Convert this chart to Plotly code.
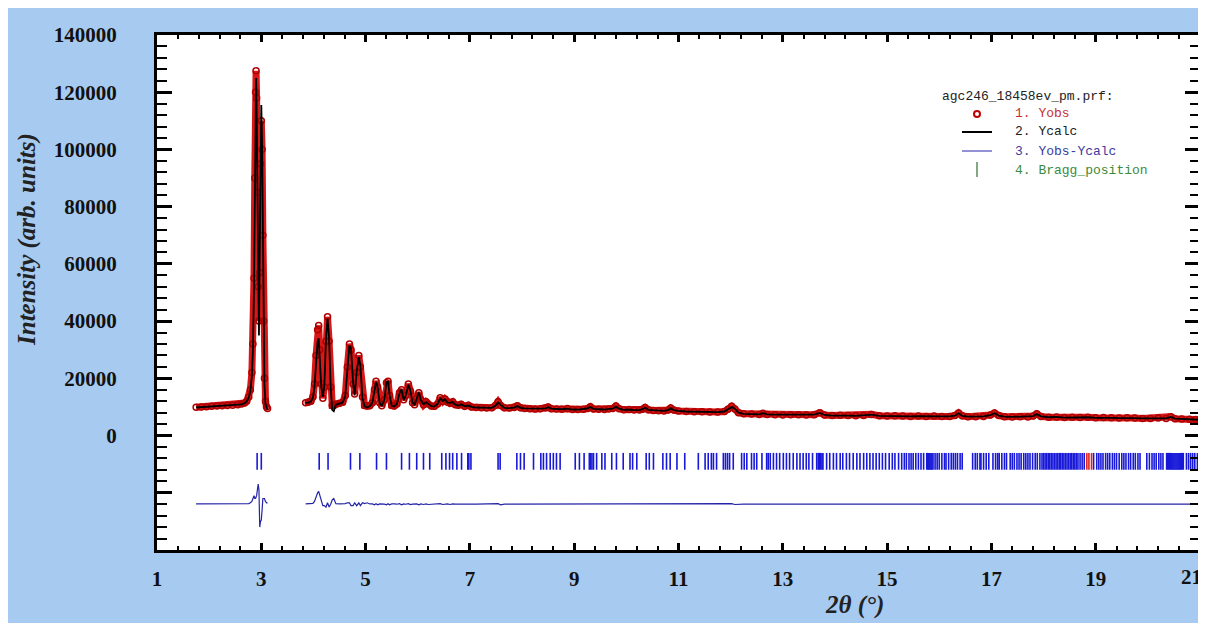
import plotly.graph_objects as go

# ---------------- data ----------------
# first measured segment (low-angle peak)
x_seg1 = [1.75, 1.85, 1.95, 2.05, 2.15, 2.25, 2.35, 2.45, 2.55, 2.62, 2.68, 2.72, 2.76, 2.79,
          2.82, 2.84, 2.86, 2.875, 2.89, 2.90, 2.91, 2.925, 2.94, 2.955, 2.97, 2.985, 3.00,
          3.015, 3.03, 3.045, 3.06, 3.08, 3.10, 3.12]
yobs_seg1 = [9900, 10000, 10100, 10200, 10300, 10400, 10500, 10600, 10800, 11000, 11400, 12000,
             13500, 16000, 22000, 32000, 55000, 90000, 120000, 127500, 118000, 85000, 52000,
             40000, 57000, 95000, 110000, 100000, 70000, 40000, 20000, 12000, 10000, 9500]
ycalc_seg1 = [9800, 9900, 10000, 10100, 10200, 10300, 10400, 10500, 10700, 10900, 11300, 11900,
              13300, 15500, 21000, 30000, 52000, 88000, 118000, 125000, 115000, 80000, 45000,
              35000, 65000, 101000, 115500, 102000, 68000, 38000, 18000, 11000, 9500, 9000]

# second measured segment
x_seg2 = [3.85, 3.90, 3.95, 3.99, 4.02, 4.05, 4.08, 4.10, 4.12, 4.15, 4.18, 4.21, 4.24, 4.27,
          4.30, 4.33, 4.36, 4.39, 4.43, 4.50, 4.56, 4.61, 4.65, 4.69, 4.72, 4.76, 4.79, 4.83,
          4.87, 4.90, 4.94, 4.98, 5.03, 5.08, 5.13, 5.17, 5.20, 5.23, 5.27, 5.31, 5.36, 5.40,
          5.43, 5.46, 5.50, 5.55, 5.60, 5.65, 5.69, 5.73, 5.77, 5.82, 5.86, 5.90, 5.94, 5.98,
          6.02, 6.06, 6.11, 6.16, 6.20, 6.26, 6.32, 6.38, 6.43, 6.48, 6.52, 6.57, 6.62, 6.67,
          6.72, 6.78, 6.83, 6.90, 6.97, 7.03, 7.12, 7.22, 7.32, 7.42, 7.49, 7.54, 7.59, 7.66,
          7.76, 7.85, 7.91, 7.97, 8.05, 8.15, 8.25, 8.35, 8.45, 8.50, 8.56, 8.66, 8.76, 8.87,
          8.97, 9.07, 9.18, 9.26, 9.31, 9.37, 9.47, 9.58, 9.66, 9.74, 9.80, 9.86, 9.95, 10.05,
          10.15, 10.25, 10.31, 10.36, 10.42, 10.52, 10.62, 10.72, 10.80, 10.85, 10.91, 11.00,
          11.15, 11.30, 11.45, 11.60, 11.75, 11.88, 11.95, 12.02, 12.08, 12.15, 12.25, 12.40,
          12.55, 12.62, 12.70, 12.85, 13.00, 13.15, 13.30, 13.45, 13.60, 13.71, 13.80, 13.95,
          14.10, 14.25, 14.40, 14.55, 14.70, 14.85, 15.00, 15.15, 15.30, 15.45, 15.60, 15.75,
          15.90, 16.05, 16.20, 16.30, 16.37, 16.44, 16.55, 16.70, 16.85, 16.98, 17.06, 17.14,
          17.25, 17.40, 17.55, 17.70, 17.80, 17.87, 17.95, 18.10, 18.25, 18.40, 18.55, 18.70,
          18.85, 19.00, 19.15, 19.30, 19.45, 19.60, 19.75, 19.90, 20.05, 20.20, 20.35, 20.44,
          20.52, 20.65, 20.80, 20.92, 21.00]
yobs_seg2 = [11500, 11600, 12000, 13500, 18000, 28000, 37000, 38500, 30000, 18000, 13000, 17000,
             33000, 41500, 33000, 17000, 10500, 10500, 11000, 11300, 11600, 14000, 24000, 32000,
             30000, 18000, 14500, 22000, 28000, 24000, 13500, 10500, 10300, 10400, 11500, 16000,
             19000, 17000, 11500, 10400, 12500, 18500, 19000, 14000, 10500, 10300, 11000, 15000,
             16000, 12500, 14000, 18000, 15500, 11500, 10800, 13000, 15000, 12500, 10800, 11800,
             11000, 10300, 10200, 11000, 13200, 12000, 12800, 11600, 11300, 11800, 10800, 10600,
             10900, 10200, 10600, 10000, 9800, 9700, 9600, 9700, 10500, 11800, 10500, 9700,
             9600, 9800, 10400, 9700, 9500, 9400, 9300, 9400, 9600, 10000, 9400, 9300, 9200,
             9500, 9100, 9100, 9200, 9500, 10100, 9300, 9200, 9100, 9300, 9500, 10300, 9400,
             9000, 9100, 8900, 8900, 9200, 9800, 9000, 8800, 8700, 8600, 8900, 9600, 8900, 8600,
             8400, 8300, 8300, 8200, 8200, 8400, 9200, 10200, 9300, 8000, 7600, 7500, 7400,
             7800, 7400, 7300, 7200, 7300, 7300, 7200, 7300, 8000, 7200, 7000, 7100, 7000, 6900,
             7000, 7400, 6900, 6800, 6900, 6800, 6700, 6800, 6700, 6800, 6700, 6700, 7000, 7900,
             6900, 6600, 6600, 6700, 7200, 7900, 7000, 6600, 6500, 6600, 6500, 6800, 7600, 6700,
             6400, 6500, 6300, 6400, 6300, 6400, 6200, 6300, 6200, 6100, 6200, 6100, 6000, 6000,
             6100, 6000, 6600, 5900, 5800, 5700, 5600, 5500]
ycalc_seg2 = [11400, 11500, 11900, 13200, 17000, 25000, 33000, 34000, 27000, 17000, 13500, 17500,
              34000, 41000, 34000, 17000, 9000, 8500, 10800, 11200, 11500, 13800, 23500, 31500,
              30500, 18500, 14000, 22500, 27500, 24500, 13000, 10300, 9800, 10300, 11400, 16200,
              18800, 17200, 11400, 10300, 12500, 18700, 18800, 14200, 10400, 10200, 11000, 14800,
              16200, 12400, 14000, 17800, 15600, 11500, 10800, 12900, 15200, 12400, 10900, 11700,
              11100, 10300, 10200, 11000, 13000, 12100, 12700, 11500, 11400, 11700, 10800, 10500,
              10900, 10200, 10500, 10000, 9800, 9700, 9600, 9700, 10400, 11600, 10700, 9700,
              9600, 9800, 10300, 9700, 9500, 9400, 9300, 9400, 9500, 9900, 9400, 9300, 9200,
              9400, 9100, 9100, 9200, 9500, 10000, 9300, 9200, 9100, 9300, 9400, 10100, 9400,
              9000, 9100, 8900, 8900, 9200, 9700, 9000, 8800, 8700, 8600, 8900, 9500, 8900, 8600,
              8400, 8300, 8300, 8200, 8200, 8400, 9100, 10000, 9400, 8000, 7600, 7500, 7400,
              7800, 7400, 7300, 7200, 7300, 7300, 7200, 7300, 7900, 7200, 7000, 7100, 7000, 6900,
              7000, 7300, 6900, 6800, 6900, 6800, 6700, 6800, 6700, 6800, 6700, 6700, 7000, 7800,
              6900, 6600, 6600, 6700, 7100, 7800, 7000, 6600, 6500, 6600, 6500, 6800, 7500, 6700,
              6400, 6500, 6300, 6400, 6300, 6400, 6200, 6300, 6200, 6100, 6200, 6100, 6000, 6000,
              6100, 6000, 6500, 5900, 5800, 5700, 5600, 5500]

diff_offset = -24000  # Yobs-Ycalc curve is drawn shifted down

bragg_positions = [
    2.92, 3.00,
    4.11, 4.28, 4.71, 4.89, 5.21, 5.40, 5.69, 5.84, 5.98, 6.11, 6.23,
    6.46, 6.54, 6.61, 6.67, 6.75, 6.84, 6.96, 6.98, 7.02,
    7.54, 7.58,
    7.90, 7.97, 8.04, 8.22, 8.36, 8.41, 8.47, 8.54, 8.60, 8.66, 8.73, 9.02,
    9.10, 9.19, 9.29, 9.31, 9.34, 9.37, 9.43, 9.53, 9.59, 9.72, 9.81, 9.94, 10.07, 10.12,
    10.20, 10.38, 10.44, 10.52, 10.70, 10.77, 10.84, 10.97, 11.12, 11.38,
    11.51, 11.57, 11.63, 11.67, 11.73, 11.86, 11.90, 11.94, 11.98, 12.05,
    12.21, 12.26, 12.31, 12.40, 12.45, 12.50, 12.60, 12.69, 12.72, 12.76, 12.82, 12.88,
    12.94, 13.01, 13.07, 13.13, 13.20, 13.27, 13.33, 13.39, 13.45, 13.50, 13.57, 13.65,
    13.68, 13.70, 13.72, 13.75, 13.77, 13.84, 13.90, 13.97, 14.03, 14.10, 14.15, 14.22,
    14.28, 14.35, 14.42, 14.48, 14.55, 14.61, 14.67, 14.73, 14.79, 14.85, 14.91, 14.97,
    15.04, 15.10, 15.15, 15.22, 15.28, 15.33, 15.37, 15.42, 15.46, 15.50, 15.55, 15.60,
    15.65, 15.70, 15.76, 15.78, 15.80, 15.82, 15.84, 15.86, 15.88, 15.92, 15.96, 16.00,
    16.05, 16.10, 16.13, 16.18, 16.23, 16.27, 16.31, 16.35, 16.40, 16.44,
    16.64, 16.69, 16.73, 16.78, 16.80, 16.85, 16.90, 16.95,
    17.03, 17.08, 17.12, 17.15, 17.20, 17.25, 17.29,
    17.36, 17.40, 17.44, 17.49, 17.53, 17.57, 17.62, 17.66, 17.70, 17.74, 17.79, 17.84,
    17.88, 17.93, 17.97,
    18.00, 18.03, 18.06, 18.09, 18.12, 18.15, 18.18, 18.21, 18.24, 18.27, 18.30, 18.33,
    18.36, 18.39, 18.42, 18.45, 18.48, 18.51, 18.54, 18.57, 18.60, 18.63, 18.66, 18.70,
    18.74, 18.78,
    18.96, 19.02, 19.06, 19.10, 19.14, 19.19, 19.23, 19.27, 19.32, 19.36, 19.40, 19.45,
    19.50, 19.54, 19.58, 19.63, 19.67, 19.72, 19.76, 19.81, 19.85,
    19.98, 20.03, 20.08, 20.12, 20.16, 20.21, 20.25, 20.29,
    20.36, 20.38, 20.40, 20.42, 20.44, 20.46, 20.48, 20.50, 20.52, 20.54, 20.56, 20.58,
    20.60, 20.62, 20.64, 20.66, 20.68,
    20.74, 20.78, 20.82, 20.86, 20.90, 20.95, 20.99,
]
bragg_positions_red = [18.83, 18.87, 18.92]
bragg_level = -9000

x_tickvals = [1, 3, 5, 7, 9, 11, 13, 15, 17, 19, 21]
x_ticktext = ["1", "3", "5", "7", "9", "11", "13", "15", "17", "19", "21"]
y_tickvals = [-40000, -20000, 0, 20000, 40000, 60000, 80000, 100000, 120000, 140000]
y_ticktext = ["", "", "0", "20000", "40000", "60000", "80000", "100000", "120000", "140000"]

legend_title = "agc246_18458ev_pm.prf:"
legend_items = ["1. Yobs", "2. Ycalc", "3. Yobs-Ycalc", "4. Bragg_position"]

# ---------------- figure ----------------
# the page has an 8px body margin; figure fills the rest of the 1206x623 window
OFF = 8
W, H = 1198, 615
ML, MR, MT, MB = 149, 6, 27, 73
PW, PH = W - ML - MR, H - MT - MB


def px(xp):  # page pixel -> paper x
    return (xp - OFF - ML) / PW


def py(yp):  # page pixel -> paper y
    return (H - MB - (yp - OFF)) / PH


x_all = x_seg1 + [None] + x_seg2
yobs_all = yobs_seg1 + [None] + yobs_seg2
ycalc_all = ycalc_seg1 + [None] + ycalc_seg2
diff_all = [None if o is None else o - c + diff_offset for o, c in zip(yobs_all, ycalc_all)]

fig = go.Figure()

# Bragg positions
fig.add_trace(go.Scatter(
    x=bragg_positions, y=[bragg_level] * len(bragg_positions), mode="markers",
    marker=dict(symbol="line-ns", size=12, line=dict(color="#1818d8", width=1.6)),
    showlegend=False, hoverinfo="x"))
fig.add_trace(go.Scatter(
    x=bragg_positions_red, y=[bragg_level] * len(bragg_positions_red), mode="markers",
    marker=dict(symbol="line-ns", size=12, line=dict(color="#e02020", width=1.6)),
    showlegend=False, hoverinfo="x"))

# Yobs - Ycalc
fig.add_trace(go.Scatter(x=x_all, y=diff_all, mode="lines",
                         line=dict(color="#2424a8", width=1.2), showlegend=False,
                         connectgaps=False))
# Yobs
fig.add_trace(go.Scatter(x=x_all, y=yobs_all, mode="lines+markers",
                         line=dict(color="#d81818", width=7),
                         marker=dict(symbol="circle-open", size=6, color="#b00000",
                                     line=dict(width=1.5, color="#b00000")),
                         showlegend=False, connectgaps=False))
# Ycalc
fig.add_trace(go.Scatter(x=x_all, y=ycalc_all, mode="lines",
                         line=dict(color="black", width=1.8), showlegend=False,
                         connectgaps=False))

tickfont = dict(family="Liberation Serif", size=21, color="#111111", weight="bold")

# the last x label sits at the window edge: it is drawn as an annotation, kept inside
x_axis_text = x_ticktext[:-1] + [""]

fig.update_xaxes(range=[1, 21], tickmode="array", tickvals=x_tickvals, ticktext=x_axis_text,
                 ticks="inside", ticklen=7, tickwidth=3, tickcolor="black",
                 showline=True, linewidth=3, linecolor="black", mirror="allticks",
                 showgrid=False, zeroline=False, tickfont=tickfont, ticklabelstandoff=8,
                 automargin=False,
                 minor=dict(tick0=1, dtick=0.4, ticks="inside", ticklen=4, tickwidth=1.5,
                            tickcolor="black", showgrid=False))
fig.update_yaxes(range=[-40000, 140000], tickmode="array", tickvals=y_tickvals,
                 ticktext=y_ticktext, automargin=False,
                 ticks="inside", ticklen=15, tickwidth=3, tickcolor="black",
                 showline=True, linewidth=3, linecolor="black", mirror="allticks",
                 showgrid=False, zeroline=False, tickfont=tickfont, ticklabelstandoff=33,
                 minor=dict(tick0=0, dtick=4000, ticks="inside", ticklen=10, tickwidth=1.5,
                            tickcolor="black", showgrid=False))

shapes = [
    # legend symbols
    dict(type="circle", xref="paper", yref="paper", x0=px(974), x1=px(980), y0=py(117), y1=py(111),
         line=dict(color="#c00000", width=2), fillcolor="rgba(0,0,0,0)"),
    dict(type="line", xref="paper", yref="paper", x0=px(962), x1=px(992), y0=py(132), y1=py(132),
         line=dict(color="black", width=2)),
    dict(type="line", xref="paper", yref="paper", x0=px(962), x1=px(992), y0=py(151), y1=py(151),
         line=dict(color="#2424a8", width=1)),
    dict(type="line", xref="paper", yref="paper", x0=px(977), x1=px(977), y0=py(162), y1=py(177),
         line=dict(color="#2f6f2f", width=1.2)),
]

mono = "Liberation Mono"
annotations = [
    dict(text=legend_title, x=px(940), y=py(96), xref="paper", yref="paper",
         xanchor="left", yanchor="middle", showarrow=False,
         font=dict(family=mono, size=13, color="#222222")),
]
legend_colors = ["#c83030", "#222222", "#3a3aa0", "#3a8a3a"]
legend_y = [114, 132, 151, 170]
for t, c, yy in zip(legend_items, legend_colors, legend_y):
    annotations.append(dict(text=t, x=px(1013), y=py(yy), xref="paper", yref="paper",
                            xanchor="left", yanchor="middle", showarrow=False,
                            font=dict(family=mono, size=13, color=c)))
annotations.append(dict(text=x_ticktext[-1], x=px(1204), y=py(577), xref="paper", yref="paper",
                        xanchor="right", yanchor="middle", showarrow=False, font=tickfont))
annotations.append(dict(text="<b><i>Intensity (arb. units)</i></b>", x=px(27), y=py(240),
                        xref="paper", yref="paper", textangle=-90, showarrow=False,
                        xanchor="center", yanchor="middle",
                        font=dict(family="Liberation Serif", size=25, color="#222222")))
annotations.append(dict(text="<b><i>2θ (°)</i></b>", x=px(854), y=py(605),
                        xref="paper", yref="paper", showarrow=False,
                        xanchor="center", yanchor="middle",
                        font=dict(family="Liberation Serif", size=25, color="#222222")))

fig.update_layout(width=W, height=H, margin=dict(l=ML, r=MR, t=MT, b=MB, pad=0,
                                                 autoexpand=False),
                  paper_bgcolor="#a6caf0", plot_bgcolor="white",
                  shapes=shapes, annotations=annotations, showlegend=False)

fig.write_html("out.html")
